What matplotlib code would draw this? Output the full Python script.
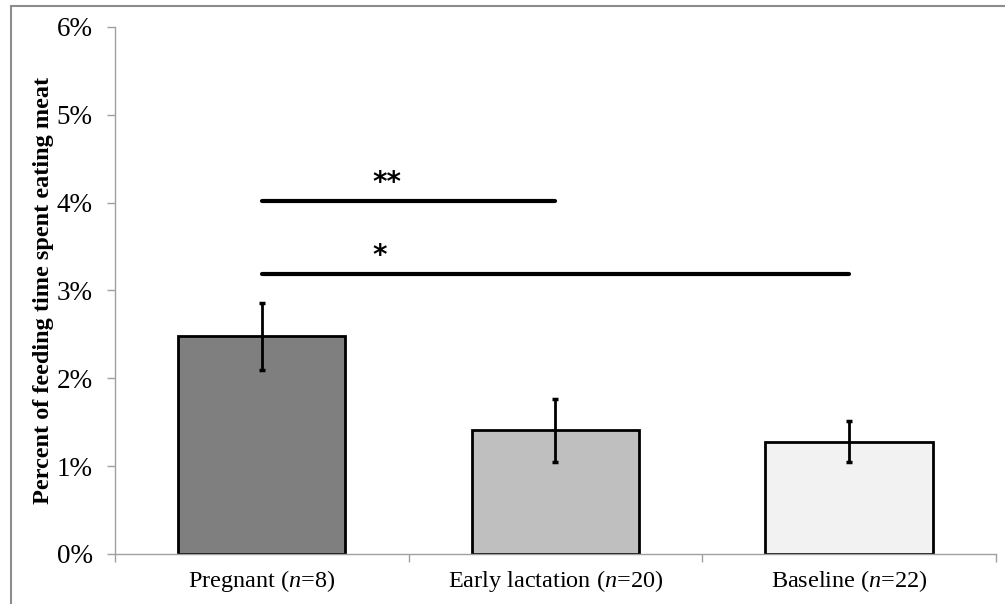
import numpy as np
import matplotlib.pyplot as plt
from matplotlib.patches import Rectangle

plt.rcParams['font.family'] = 'Liberation Serif'
plt.rcParams['mathtext.fontset'] = 'custom'
plt.rcParams['mathtext.rm'] = 'Liberation Serif'
plt.rcParams['mathtext.it'] = 'Liberation Serif:italic'

# data
groups = ['Pregnant ($n$=8)', 'Early lactation ($n$=20)', 'Baseline ($n$=22)']
means = [2.48, 1.41, 1.28]
errors = [0.38, 0.36, 0.23]
colors = ['#7f7f7f', '#bfbfbf', '#f2f2f2']
yticks = [0, 1, 2, 3, 4, 5, 6]

# significance brackets: (from group, to group, height %, label)
sig_pairs = [(0, 1, 4.02, '**'), (0, 2, 3.19, '*')]

fig = plt.figure(figsize=(10.05, 6.04), dpi=100)
ax = fig.add_axes([0.1144, 0.0828, 0.8766, 0.8725])

x = np.arange(len(groups))
ax.bar(x, means, width=0.57, color=colors, edgecolor='black', linewidth=2.0, zorder=2)
ax.errorbar(x, means, yerr=errors, fmt='none', ecolor='black', elinewidth=2.0,
            capsize=2, capthick=2.5, zorder=3)

for i, j, h, lab in sig_pairs:
    ax.plot([x[i], x[j]], [h, h], color='black', linewidth=3.0,
            solid_capstyle='round', zorder=3)
    ax.text(x[i] + 0.378, h + 0.045, lab, ha='left', va='bottom',
            fontsize=20, fontweight='bold', family='DejaVu Sans')

ax.set_xlim(-0.5, len(groups) - 0.5)
ax.set_ylim(0, 6)
ax.set_yticks(yticks)
ax.set_yticklabels([f'{v}%' for v in yticks], fontsize=19.5)
ax.set_xticks(x)
ax.set_xticklabels(groups, fontsize=17.5)
ax.set_xticks(np.arange(-0.5, len(groups), 1.0), minor=True)

ax.tick_params(axis='x', which='major', length=0, pad=10)
ax.tick_params(axis='x', which='minor', length=6, width=1.0, color='#a0a0a0', direction='out')
ax.tick_params(axis='y', length=6, width=1.0, color='#a0a0a0', pad=10)

for s in ['top', 'right']:
    ax.spines[s].set_visible(False)
for s in ['left', 'bottom']:
    ax.spines[s].set_color('#a0a0a0')
    ax.spines[s].set_linewidth(1.0)

ax.set_ylabel('Percent of feeding time spent eating meat', fontsize=17.5,
              fontweight='bold', labelpad=2)

# grey frame around the whole picture
fig.patches.append(Rectangle((11 / 1005, -0.01), 1.0, 1 - 6 / 604 + 0.01,
                             transform=fig.transFigure, fill=False,
                             edgecolor='#8c8c8c', linewidth=1.5))

fig.savefig('out.png', dpi=100)
